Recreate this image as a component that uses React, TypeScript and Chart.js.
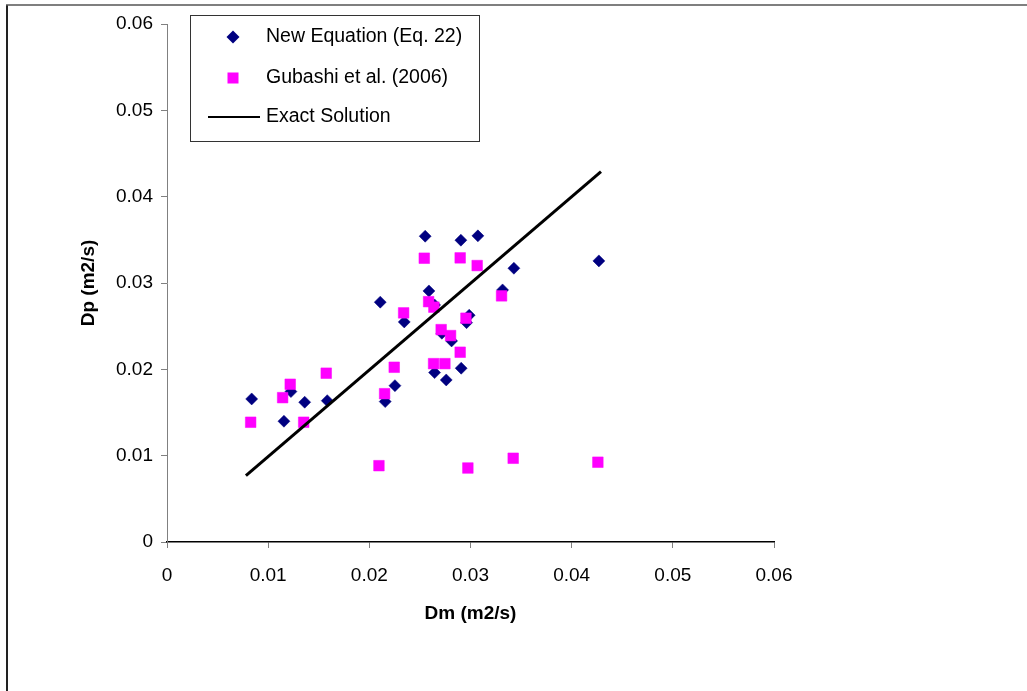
import React, { useEffect, useRef } from "react";
import { Chart, registerables } from "chart.js";

Chart.register(...registerables);

// ---- data ----
const newEqDm = [0.00837, 0.01156, 0.01225, 0.01361, 0.01584, 0.02108, 0.02157, 0.02253, 0.02345, 0.02552, 0.02589, 0.02645, 0.02645, 0.02717, 0.0276, 0.02813, 0.02905, 0.02908, 0.02961, 0.02987, 0.03073, 0.03317, 0.03429, 0.04269];
const newEqDp = [0.01657, 0.01399, 0.01742, 0.01619, 0.01637, 0.02778, 0.01626, 0.01811, 0.02549, 0.03542, 0.02908, 0.02746, 0.01962, 0.02418, 0.01877, 0.02329, 0.03496, 0.02013, 0.02541, 0.02627, 0.03546, 0.0292, 0.03171, 0.03256];

const gubDm = [0.00827, 0.01143, 0.01218, 0.01351, 0.01574, 0.02095, 0.02151, 0.02246, 0.02339, 0.02543, 0.02586, 0.02638, 0.02635, 0.0271, 0.02747, 0.02803, 0.02898, 0.02898, 0.02955, 0.02974, 0.03066, 0.03307, 0.03422, 0.04259];
const gubDp = [0.01387, 0.01672, 0.01827, 0.01387, 0.01955, 0.00884, 0.01718, 0.02024, 0.02654, 0.03287, 0.02784, 0.0272, 0.02066, 0.0246, 0.02066, 0.02391, 0.03291, 0.02198, 0.02592, 0.00857, 0.03202, 0.02851, 0.0097, 0.00924];

const exactDm = [0.0078, 0.0429];
const exactDp = [0.0077, 0.0429];

const xTickLabels = ["0", "0.01", "0.02", "0.03", "0.04", "0.05", "0.06"];
const yTickLabels = ["0", "0.01", "0.02", "0.03", "0.04", "0.05", "0.06"];

const seriesNames = ["New Equation (Eq. 22)", "Gubashi et al. (2006)", "Exact Solution"];
const xTitle = "Dm (m2/s)";
const yTitle = "Dp (m2/s)";

const FONT = "'Liberation Sans', Arial, sans-serif";
const NAVY = "#000080";
const MAGENTA = "#FF00FF";

const framePlugin = {
  id: "frame",
  beforeDraw(chart: any) {
    const ctx = chart.ctx;
    ctx.save();
    ctx.fillStyle = "#ffffff";
    ctx.fillRect(0, 0, chart.width, chart.height);
    ctx.strokeStyle = "#222";
    ctx.lineWidth = 2;
    ctx.beginPath();
    ctx.moveTo(7, 700);
    ctx.lineTo(7, 5);
    ctx.stroke();
    ctx.strokeStyle = "#555";
    ctx.lineWidth = 1.5;
    ctx.beginPath();
    ctx.moveTo(6, 5);
    ctx.lineTo(1040, 5);
    ctx.stroke();
    ctx.restore();
  },
};

const legendPlugin = {
  id: "customLegend",
  afterDraw(chart: any) {
    const ctx = chart.ctx;
    ctx.save();
    ctx.fillStyle = "#fff";
    ctx.fillRect(190, 15, 290, 127);
    ctx.strokeStyle = "#333";
    ctx.lineWidth = 1;
    ctx.strokeRect(190.5, 15.5, 289, 126);

    // diamond
    const dx = 233, dy = 37, r = 6.5;
    ctx.fillStyle = NAVY;
    ctx.beginPath();
    ctx.moveTo(dx - r, dy);
    ctx.lineTo(dx, dy - r);
    ctx.lineTo(dx + r, dy);
    ctx.lineTo(dx, dy + r);
    ctx.closePath();
    ctx.fill();

    // square
    ctx.fillStyle = MAGENTA;
    ctx.fillRect(233 - 5.5, 78 - 5.5, 11, 11);

    // line
    ctx.strokeStyle = "#000";
    ctx.lineWidth = 2;
    ctx.beginPath();
    ctx.moveTo(208, 117);
    ctx.lineTo(260, 117);
    ctx.stroke();

    ctx.fillStyle = "#000";
    ctx.font = `19.5px ${FONT}`;
    ctx.textBaseline = "middle";
    ctx.textAlign = "left";
    ctx.fillText(seriesNames[0], 266, 37);
    ctx.fillText(seriesNames[1], 266, 78);
    ctx.fillText(seriesNames[2], 266, 117);
    ctx.restore();
  },
};

export default function App() {
  const ref = useRef<HTMLCanvasElement | null>(null);

  useEffect(() => {
    if (!ref.current) return;
    const chart = new Chart(ref.current, {
      type: "scatter",
      data: {
        datasets: [
          {
            label: seriesNames[0],
            data: newEqDm.map((x, i) => ({ x, y: newEqDp[i] })),
            pointStyle: "rectRot",
            pointRadius: 6,
            backgroundColor: NAVY,
            borderColor: NAVY,
            borderWidth: 0.5,
            order: 3,
          },
          {
            label: seriesNames[1],
            data: gubDm.map((x, i) => ({ x, y: gubDp[i] })),
            pointStyle: "rect",
            pointRadius: 7.5,
            backgroundColor: MAGENTA,
            borderColor: MAGENTA,
            borderWidth: 0.5,
            order: 2,
          },
          {
            label: seriesNames[2],
            type: "line",
            data: exactDm.map((x, i) => ({ x, y: exactDp[i] })),
            showLine: true,
            borderColor: "#000",
            borderWidth: 3,
            pointRadius: 0,
            fill: false,
            order: 1,
          } as any,
        ],
      },
      options: {
        animation: false,
        responsive: false,
        maintainAspectRatio: false,
        layout: { padding: { left: 77, top: 24, right: 253, bottom: 66 } },
        plugins: {
          legend: { display: false },
          tooltip: { enabled: false },
        },
        scales: {
          x: {
            type: "linear",
            min: 0,
            max: 0.06,
            afterFit: (s: any) => {
              s.height = 83;
            },
            ticks: {
              stepSize: 0.01,
              padding: 16,
              color: "#000",
              font: { family: FONT, size: 19 },
              callback: (_v: any, i: number) => xTickLabels[i],
              maxRotation: 0,
            },
            grid: {
              display: true,
              drawOnChartArea: false,
              drawTicks: true,
              tickLength: 6,
              tickColor: "#808080",
            },
            border: { display: true, color: "#000", width: 1.5 },
            title: {
              display: true,
              text: xTitle,
              color: "#000",
              font: { family: FONT, size: 19, weight: "bold" },
              padding: { top: 0, bottom: 0 },
            },
          },
          y: {
            type: "linear",
            min: 0,
            max: 0.06,
            afterFit: (s: any) => {
              s.width = 90;
            },
            ticks: {
              stepSize: 0.01,
              padding: 8,
              color: "#000",
              font: { family: FONT, size: 19 },
              callback: (_v: any, i: number) => yTickLabels[i],
            },
            grid: {
              display: true,
              drawOnChartArea: false,
              drawTicks: true,
              tickLength: 6,
              tickColor: "#808080",
            },
            border: { display: true, color: "#808080", width: 1 },
            title: {
              display: true,
              text: yTitle,
              color: "#000",
              font: { family: FONT, size: 19, weight: "bold" },
              padding: { top: 0, bottom: 0 },
            },
          },
        },
      } as any,
      plugins: [framePlugin, legendPlugin],
    });
    return () => chart.destroy();
  }, []);

  return (
    <div style={{ position: "absolute", left: 0, top: 0, width: 1027, height: 691 }}>
      <canvas ref={ref} width={1027} height={691} style={{ width: 1027, height: 691 }} />
    </div>
  );
}
